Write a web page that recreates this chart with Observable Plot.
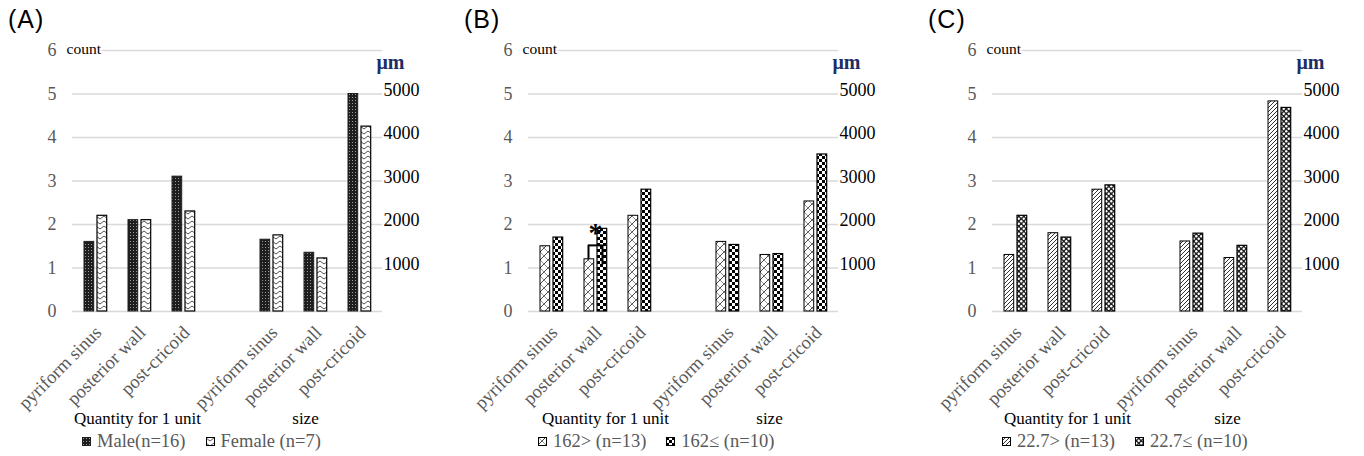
<!DOCTYPE html>
<html><head><meta charset="utf-8">
<script src="https://cdn.jsdelivr.net/npm/d3@7"></script>
<script src="https://cdn.jsdelivr.net/npm/@observablehq/plot@0.6"></script>
<style>
html,body{margin:0;padding:0;background:#fff;overflow:hidden;width:1364px;height:456px;}
#root{position:relative;width:1364px;height:456px;}
.panel{position:absolute;top:0;width:442px;height:456px;}
.tag{position:absolute;left:8px;top:5px;font-family:"Liberation Sans",Arial,sans-serif;font-size:25px;color:#000;letter-spacing:1px;}
.legend{position:absolute;top:430px;display:flex;gap:20px;font-family:"Liberation Serif","Times New Roman",serif;font-size:18.5px;color:#595959;white-space:nowrap;line-height:22px;}
.item{display:flex;align-items:center;gap:6px;}
.item svg{display:block;}
</style></head>
<body><div id="root"></div>
<script>
// ---------- data ----------
const regions = ["pyriform sinus", "posterior wall", "post-cricoid"];
const groups = ["Quantity for 1 unit", "size"];
const yTicks = [0, 1, 2, 3, 4, 5, 6];
const umTicks = [1000, 2000, 3000, 4000, 5000];
const panelTags = ["(A)", "(B)", "(C)"];

const seriesA = ["Male(n=16)", "Female (n=7)"];
const countA1 = [1.6, 2.1, 3.1];
const countA2 = [2.2, 2.1, 2.3];
const sizeA1 = [1650, 1350, 5000];
const sizeA2 = [1750, 1220, 4250];

const seriesB = ["162> (n=13)", "162\u2264 (n=10)"];
const countB1 = [1.5, 1.2, 2.2];
const countB2 = [1.7, 1.9, 2.8];
const sizeB1 = [1600, 1300, 2530];
const sizeB2 = [1530, 1320, 3610];

const seriesC = ["22.7> (n=13)", "22.7\u2264 (n=10)"];
const countC1 = [1.3, 1.8, 2.8];
const countC2 = [2.2, 1.7, 2.9];
const sizeC1 = [1610, 1230, 4830];
const sizeC2 = [1790, 1510, 4680];

// significance bracket in panel B (posterior wall, quantity)
const sigB = [{group: "Quantity for 1 unit", region: "posterior wall", left: 1.2, top: 1.52, right: 1.07, star: 1.8}];

// ---------- patterns ----------
const defs = d3.select("body").append("svg")
  .attr("width", 0).attr("height", 0)
  .style("position", "absolute").style("left", "0").style("top", "0")
  .append("defs");
function pat(id, w, h, build) {
  const p = defs.append("pattern").attr("id", id).attr("patternUnits", "userSpaceOnUse")
    .attr("width", w).attr("height", h);
  build(p);
}
pat("pA1", 3, 3, p => {
  p.append("rect").attr("width", 3).attr("height", 3).attr("fill", "#1e1e1e");
  p.append("rect").attr("x", 1).attr("y", 1).attr("width", 1).attr("height", 1).attr("fill", "#9a9a9a");
});
pat("pA2", 8, 5, p => {
  p.append("rect").attr("width", 8).attr("height", 5).attr("fill", "#fff");
  p.append("path").attr("d", "M0,1 L4,4 L8,1").attr("fill", "none").attr("stroke", "#555").attr("stroke-width", 1);
});
pat("pB1", 8, 8, p => {
  p.append("rect").attr("width", 8).attr("height", 8).attr("fill", "#fff");
  p.append("path").attr("d", "M-1,9 L9,-1 M-1,1 L1,-1 M7,9 L9,7").attr("stroke", "#444").attr("stroke-width", 1);
  p.append("path").attr("d", "M-1,-1 L9,9").attr("stroke", "#777").attr("stroke-width", 0.8);
});
pat("pB2", 6, 6, p => {
  p.append("rect").attr("width", 6).attr("height", 6).attr("fill", "#fff");
  p.append("rect").attr("width", 3).attr("height", 3).attr("fill", "#000");
  p.append("rect").attr("x", 3).attr("y", 3).attr("width", 3).attr("height", 3).attr("fill", "#000");
});
pat("pC1", 4, 4, p => {
  p.append("rect").attr("width", 4).attr("height", 4).attr("fill", "#fff");
  p.append("path").attr("d", "M-1,1 L1,-1 M0,4 L4,0 M3,5 L5,3").attr("stroke", "#333").attr("stroke-width", 1);
});
pat("pC2", 5, 5, p => {
  p.append("rect").attr("width", 5).attr("height", 5).attr("fill", "#222");
  p.append("circle").attr("cx", 1.25).attr("cy", 1.25).attr("r", 1.2).attr("fill", "#fff");
  p.append("circle").attr("cx", 3.75).attr("cy", 3.75).attr("r", 1.2).attr("fill", "#fff");
});

// ---------- panels ----------
const keyOf = (g, r) => g + "|" + r;
const domain = [...regions.map(r => keyOf(groups[0], r)), "gap", ...regions.map(r => keyOf(groups[1], r))];

function rowsFor(count, size) {
  return [
    ...regions.map((r, i) => ({key: keyOf(groups[0], r), value: count[i]})),
    ...regions.map((r, i) => ({key: keyOf(groups[1], r), value: size[i] / 1000}))
  ];
}

const panels = [
  {tag: panelTags[0], left: 0, series: seriesA, s1: rowsFor(countA1, sizeA1), s2: rowsFor(countA2, sizeA2), p1: "pA1", p2: "pA2", stroke1: "#1e1e1e", qdx: -2, sdx: -10, sig: []},
  {tag: panelTags[1], left: 456, series: seriesB, s1: rowsFor(countB1, sizeB1), s2: rowsFor(countB2, sizeB2), p1: "pB1", p2: "pB2", stroke1: "#000", qdx: 10, sdx: -2, sig: sigB},
  {tag: panelTags[2], left: 920, series: seriesC, s1: rowsFor(countC1, sizeC1), s2: rowsFor(countC2, sizeC2), p1: "pC1", p2: "pC2", stroke1: "#000", qdx: 8, sdx: -8, sig: []}
];

const FONT = "'Liberation Serif','Times New Roman',serif";
const root = document.getElementById("root");
for (const P of panels) {
  const div = document.createElement("div");
  div.className = "panel";
  div.style.left = P.left + "px";
  root.appendChild(div);

  const sig = P.sig.map(d => ({...d, key: keyOf(d.group, d.region)}));

  const chart = Plot.plot({
    width: 442, height: 430,
    marginLeft: 72, marginRight: 60, marginTop: 50, marginBottom: 119,
    style: {fontFamily: FONT, fontSize: "17px", background: "transparent", overflow: "visible"},
    x: {type: "band", domain, padding: 0},
    y: {domain: [0, 6]},
    marks: [
      Plot.ruleY(yTicks, {stroke: "#d9d9d9", strokeWidth: 1.3}),
      Plot.barY(P.s1, {x: "key", y: "value", fill: `url(#${P.p1})`, stroke: P.stroke1, strokeWidth: 1, insetLeft: 11, insetRight: 23.3}),
      Plot.barY(P.s2, {x: "key", y: "value", fill: `url(#${P.p2})`, stroke: "#000", strokeWidth: 1.2, insetLeft: 24, insetRight: 10.3}),
      Plot.ruleX(sig, {x: "key", y1: "left", y2: "top", dx: -7, stroke: "#000", strokeWidth: 2}),
      Plot.ruleX(sig, {x: "key", y1: "right", y2: "top", dx: 7, stroke: "#000", strokeWidth: 2}),
      Plot.tickY(sig, {x: "key", y: "top", insetLeft: 15, insetRight: 14.3, stroke: "#000", strokeWidth: 2}),
      Plot.text(sig, {x: "key", y: "star", text: () => "*", fontSize: 28, fontWeight: "bold", fill: "#000", fontFamily: FONT}),
      Plot.axisY({ticks: yTicks, anchor: "left", tickSize: 0, tickPadding: 16, label: null, color: "#595959",
        fontSize: 18, fontFamily: FONT, tickFormat: d => String(d)}),
      Plot.axisY({ticks: umTicks.map(v => v / 1000), anchor: "right", tickSize: 0, tickPadding: 1, label: null, color: "#000", dy: -4,
        fontSize: 18, fontFamily: FONT, tickFormat: d => String(Math.round(d * 1000))}),
      Plot.axisX({tickRotate: -45, tickSize: 0, tickPadding: 18, label: null, color: "#595959",
        fontSize: 18.5, fontFamily: FONT, dx: 3, tickFormat: d => (d.split("|")[1] ?? "")}),
      Plot.text([groups[0]], {x: () => keyOf(groups[0], regions[1]), text: d => d, frameAnchor: "bottom", dy: 112, dx: P.qdx, fill: "#000", fontSize: 17, fontFamily: FONT}),
      Plot.text([groups[1]], {x: () => keyOf(groups[1], regions[1]), text: d => d, frameAnchor: "bottom", dy: 112, dx: P.sdx, fill: "#000", fontSize: 17, fontFamily: FONT}),
      Plot.text(["count"], {text: d => d, frameAnchor: "top-left", textAnchor: "start", lineAnchor: "middle", dx: -6, dy: -1, fontSize: 15.5, fill: "#000", stroke: "#fff", strokeWidth: 5, paintOrder: "stroke", fontFamily: FONT}),
      Plot.text(["\u03bcm"], {text: d => d, frameAnchor: "top-right", lineAnchor: "middle", dx: 22, dy: 12, fontSize: 20, fontWeight: "bold", fill: "#1b2f66", fontFamily: FONT})
    ]
  });
  div.appendChild(chart);

  const tag = document.createElement("div");
  tag.className = "tag";
  tag.textContent = P.tag;
  div.appendChild(tag);

  const leg = document.createElement("div");
  leg.className = "legend";
  leg.style.left = "82px";
  [[P.series[0], P.p1, P.stroke1], [P.series[1], P.p2, "#000"]].forEach(([name, id, st]) => {
    const it = document.createElement("div");
    it.className = "item";
    it.innerHTML = `<svg width="9" height="9"><rect x="0.5" y="0.5" width="8" height="8" fill="url(#${id})" stroke="${st}" stroke-width="1"/></svg><span>${name}</span>`;
    leg.appendChild(it);
  });
  div.appendChild(leg);
}
</script>
</body></html>
